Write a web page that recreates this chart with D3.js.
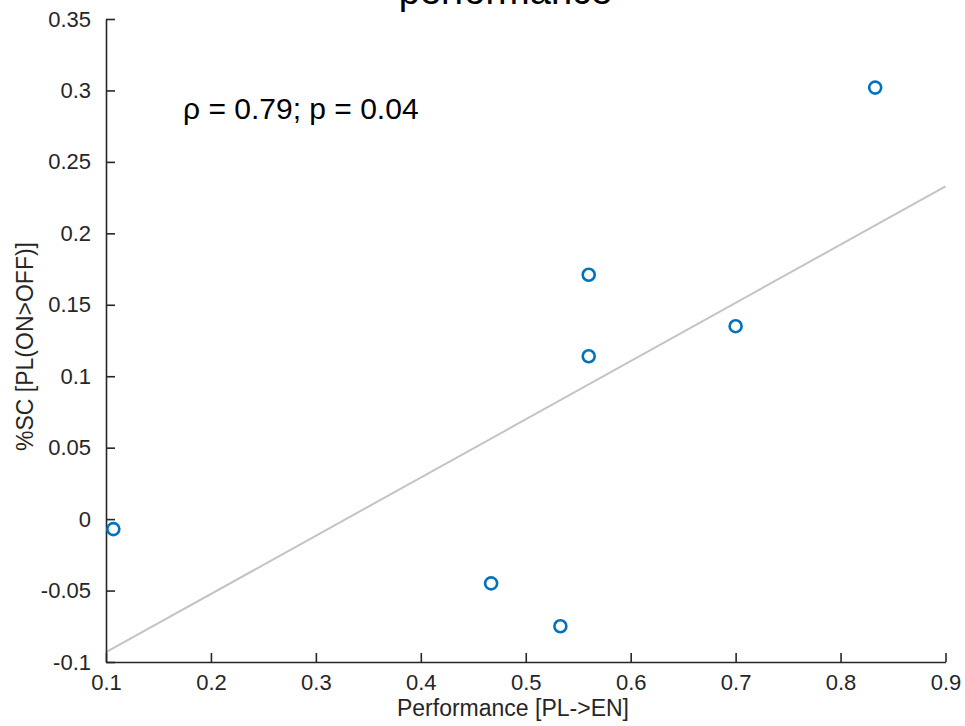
<!DOCTYPE html>
<html>
<head>
<meta charset="utf-8">
<script src="https://cdn.jsdelivr.net/npm/d3@7"></script>
<style>
  body { margin: 0; background: #fff; }
  svg { display: block; font-family: "Liberation Sans", Arial, Helvetica, sans-serif; }
</style>
</head>
<body>
<div id="chart"></div>
<script>
// values
const performance = [0.107, 0.467, 0.533, 0.560, 0.560, 0.700, 0.833];
const percentSC = [-0.007, -0.045, -0.075, 0.171, 0.114, 0.135, 0.302];

const xTicks = [0.1, 0.2, 0.3, 0.4, 0.5, 0.6, 0.7, 0.8, 0.9];
const xTickLabels = ["0.1", "0.2", "0.3", "0.4", "0.5", "0.6", "0.7", "0.8", "0.9"];
const yTicks = [-0.1, -0.05, 0, 0.05, 0.1, 0.15, 0.2, 0.25, 0.3, 0.35];
const yTickLabels = ["-0.1", "-0.05", "0", "0.05", "0.1", "0.15", "0.2", "0.25", "0.3", "0.35"];

const titleText = "performance";
const statText = "\u03C1 = 0.79; p = 0.04";
const xLabel = "Performance [PL->EN]";
const yLabel = "%SC [PL(ON>OFF)]";

const width = 965, height = 726;
const ink = "#262626";

const svg = d3.select("#chart").append("svg")
    .attr("width", width)
    .attr("height", height);

const x = d3.scaleLinear().domain([0.1, 0.9]).range([106, 945.5]);
const y = d3.scaleLinear().domain([-0.1, 0.35]).range([662, 19]);

// least squares fit line across the x range
const mx = d3.mean(performance), my = d3.mean(percentSC);
let sxy = 0, sxx = 0;
performance.forEach((v, i) => {
    sxy += (v - mx) * (percentSC[i] - my);
    sxx += (v - mx) * (v - mx);
});
const slope = sxy / sxx;
const fit = x.domain().map(v => [v, my + slope * (v - mx)]);

svg.append("path")
    .datum(fit)
    .attr("d", d3.line().x(d => x(d[0])).y(d => y(d[1])))
    .attr("fill", "none")
    .attr("stroke", "#c4c4c4")
    .attr("stroke-width", 2);

// axes, ticks pointing inward
const xAxis = svg.append("g")
    .attr("transform", `translate(0,${y(-0.1)})`)
    .call(d3.axisBottom(x)
        .tickValues(xTicks)
        .tickFormat((d, i) => xTickLabels[i])
        .tickSizeInner(-9)
        .tickSizeOuter(0)
        .tickPadding(12));

const yAxis = svg.append("g")
    .attr("transform", `translate(${x(0.1)},0)`)
    .call(d3.axisLeft(y)
        .tickValues(yTicks)
        .tickFormat((d, i) => yTickLabels[i])
        .tickSizeInner(-9)
        .tickSizeOuter(0)
        .tickPadding(15));

[xAxis, yAxis].forEach(g => {
    g.attr("font-size", null).attr("font-family", null);
    g.select(".domain").attr("stroke", ink).attr("stroke-width", 1.6);
    g.selectAll(".tick line").attr("stroke", ink).attr("stroke-width", 1.6);
    g.selectAll(".tick text")
        .attr("fill", ink)
        .attr("font-size", 22)
        .attr("font-family", "'Liberation Sans', Arial, sans-serif");
});

// data points
svg.append("g")
    .selectAll("circle")
    .data(performance.map((v, i) => ({ x: v, y: percentSC[i] })))
    .enter()
    .append("circle")
    .attr("cx", d => x(d.x))
    .attr("cy", d => y(d.y))
    .attr("r", 6)
    .attr("fill", "none")
    .attr("stroke", "#0072BD")
    .attr("stroke-width", 2.6);

// texts
svg.append("text")
    .attr("x", 505.5)
    .attr("y", 4)
    .attr("text-anchor", "middle")
    .attr("fill", "#000")
    .style("font-size", "38px")
    .text(titleText);

svg.append("text")
    .attr("x", 183)
    .attr("y", 119)
    .attr("fill", "#000")
    .style("font-size", "30px")
    .text(statText);

svg.append("text")
    .attr("x", 513)
    .attr("y", 716)
    .attr("text-anchor", "middle")
    .attr("fill", ink)
    .style("font-size", "23px")
    .text(xLabel);

svg.append("text")
    .attr("transform", "translate(33,346.5) rotate(-90)")
    .attr("text-anchor", "middle")
    .attr("fill", ink)
    .style("font-size", "23px")
    .text(yLabel);
</script>
</body>
</html>
